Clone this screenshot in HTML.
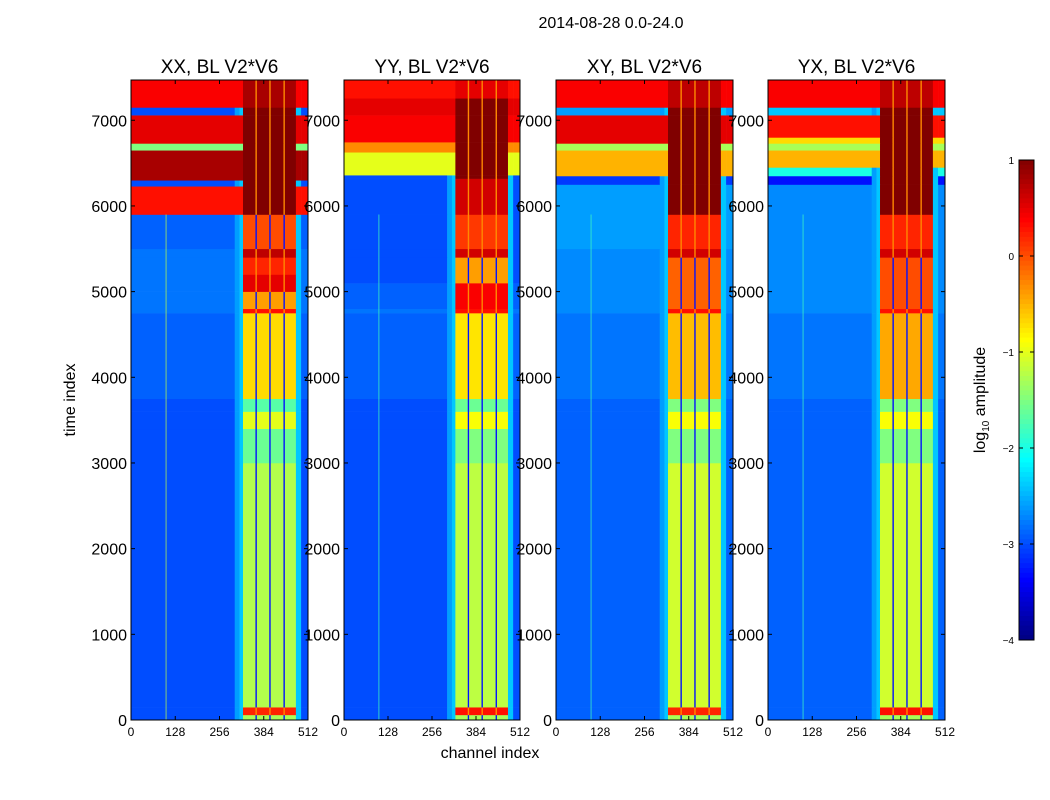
<!DOCTYPE html>
<html><head><meta charset="utf-8"><style>
body{margin:0;background:#fff;}
svg{display:block;font-family:"Liberation Sans",sans-serif;}
</style></head><body>
<svg id="fig" width="1050" height="800" viewBox="0 0 1050 800">
<text x="611" y="28" font-size="16" text-anchor="middle">2014-08-28 0.0-24.0</text>
<text transform="translate(75,400) rotate(-90)" font-size="16" text-anchor="middle">time index</text>
<text x="490" y="758" font-size="16" text-anchor="middle">channel index</text>
<g id="panels"></g>
<g id="cbar"></g>
<text transform="translate(985,400) rotate(-90)" font-size="16" text-anchor="middle">log<tspan font-size="10" dy="4">10</tspan><tspan dy="-4"> amplitude</tspan></text>
</svg>
<script>
// ---- data ----
const panelTitles = ["XX, BL V2*V6","YY, BL V2*V6","XY, BL V2*V6","YX, BL V2*V6"];
const yTicks = [0,1000,2000,3000,4000,5000,6000,7000];
const xTicks = [0,128,256,384,512];
const cbTicks = [1,0,-1,-2,-3,-4];
const stripStarts = [324,364,404,445];
const stripEnds = [360,400,441,477];
// time bands per panel: start, end, background log-amplitude, strip log-amplitude
const bandStart = [
 [0,60,150,3000,3400,3600,3750,4750,4800,5000,5200,5400,5500,5900,6230,6300,6650,6730,7060,7150],
 [0,60,150,3000,3400,3600,3750,4750,4800,5100,5400,5500,5900,6320,6360,6627,6745,7060,7257],
 [0,60,150,3000,3400,3600,3750,4750,4800,5400,5500,5900,6250,6350,6650,6730,7060,7150],
 [0,60,150,3000,3400,3600,3750,4750,4800,5400,5500,5900,6250,6350,6450,6650,6730,6800,7060,7150]
];
const bandEnd = [
 [60,150,3000,3400,3600,3750,4750,4800,5000,5200,5400,5500,5900,6230,6300,6650,6730,7060,7150,7470],
 [60,150,3000,3400,3600,3750,4750,4800,5100,5400,5500,5900,6320,6360,6627,6745,7060,7257,7470],
 [60,150,3000,3400,3600,3750,4750,4800,5400,5500,5900,6250,6350,6650,6730,7060,7150,7470],
 [60,150,3000,3400,3600,3750,4750,4800,5400,5500,5900,6250,6350,6450,6650,6730,6800,7060,7150,7470]
];
const bgVal = [
 [-3.0,-3.0,-3.0,-3.0,-3.0,-3.0,-2.9,-2.8,-2.8,-2.8,-2.8,-2.8,-2.9,0.3,-3.0,0.8,-1.5,0.5,-3.0,0.4],
 [-3.0,-3.0,-3.0,-3.0,-3.0,-3.0,-2.9,-2.8,-2.9,-3.0,-3.0,-3.0,-3.0,-3.0,-1.0,-0.3,0.4,0.5,0.3],
 [-2.9,-2.9,-2.9,-2.9,-2.9,-2.9,-2.8,-2.7,-2.7,-2.7,-2.6,-2.6,-3.1,-0.5,-1.3,0.5,-2.6,0.4],
 [-2.9,-2.9,-2.9,-2.9,-2.9,-2.9,-2.8,-2.7,-2.7,-2.7,-2.7,-2.7,-3.3,-2.0,-0.5,-1.3,-0.7,0.3,-2.4,0.4]
];
const stripVal = [
 [-1.3,0.2,-1.25,-1.6,-1.0,-1.7,-0.7,0.3,-0.4,0.5,0.2,0.7,0.0,1.0,1.0,1.0,1.0,1.0,1.0,0.8],
 [-1.3,0.3,-1.2,-1.5,-0.9,-1.6,-0.75,0.3,0.4,-0.4,0.6,0.1,0.6,1.0,1.0,1.0,1.0,1.0,0.5],
 [-1.3,0.2,-1.1,-1.5,-0.9,-1.5,-0.55,0.3,-0.1,0.6,0.2,1.0,1.0,1.0,1.0,1.0,1.0,0.7],
 [-1.3,0.3,-1.1,-1.5,-0.9,-1.5,-0.45,0.3,0.0,0.6,0.2,1.0,1.0,1.0,1.0,1.0,1.0,1.0,1.0,0.7]
];
// ---- layout ----
const panelX0 = [131,344,556,768], panelX1 = [308,520,733,945];
const PY0 = 80, PY1 = 720, TMAX = 7470, CMAX = 512;
const NS = 'http://www.w3.org/2000/svg';
function jet(v){
  let x = Math.max(0, Math.min(1, (v + 4) / 5));
  const c = t => Math.round(255 * Math.max(0, Math.min(1, 1.5 - Math.abs(4 * x - t))));
  return `rgb(${c(3)},${c(2)},${c(1)})`;
}
function mk(tag, attrs, parent){ const e = document.createElementNS(NS, tag); for (const k in attrs) e.setAttribute(k, attrs[k]); parent.appendChild(e); return e; }
const root = document.getElementById('panels');
for (let p = 0; p < 4; p++) {
  const x0 = panelX0[p], x1 = panelX1[p];
  const xs = c => x0 + (x1 - x0) * c / CMAX;
  const ys = t => PY1 - (PY1 - PY0) * t / TMAX;
  const g = mk('g', {}, root);
  
  
  for (let b = 0; b < bandStart[p].length; b++) {
    const yT = ys(bandEnd[p][b]), yB = ys(bandStart[p][b]);
    const bg = bgVal[p][b], sv = stripVal[p][b];
    const hi = bg > -2;
    const edge = hi ? bg : -2.4;
    const gap = sv > 0 ? -0.3 : -3.3;
    const segs = hi ? [[0,324,bg]] : [[0,300,bg],[300,314,-2.6],[314,324,edge]];
    for (let s = 0; s < 4; s++) {
      segs.push([stripStarts[s], stripEnds[s], sv]);
      if (s < 3) segs.push([stripEnds[s], stripStarts[s+1], gap]);
    }
    segs.push([477,492,edge],[492,512,bg]);
    for (const sg of segs) {
      const r = mk('rect', {x: xs(sg[0]), y: yT, width: xs(sg[1]) - xs(sg[0]) + 0.3, height: yB - yT + 0.3, fill: jet(sg[2])}, g);
      
      
    }
  }
  mk('rect', {x: xs(100), y: ys(5900), width: 1, height: ys(0) - ys(5900), fill: jet(p === 0 ? -1.2 : -1.8), opacity: 0.7}, g);
  const fr = mk('rect', {x: x0, y: PY0, width: x1 - x0, height: PY1 - PY0, fill: 'none', stroke: '#000', 'stroke-width': 1}, g);
  
  
  const tt = mk('text', {x: (x0 + x1) / 2, y: 73, 'font-size': 19, 'text-anchor': 'middle'}, g);
  tt.textContent = panelTitles[p];
  
  
  for (const t of yTicks) {
    const y = ys(t);
    mk('line', {x1: x0, x2: x0 + 4, y1: y, y2: y, stroke: '#000'}, g);
    mk('line', {x1: x1, x2: x1 - 4, y1: y, y2: y, stroke: '#000'}, g);
    const tl = mk('text', {x: x0 - 4, y: y + 6, 'font-size': 16, 'text-anchor': 'end'}, g);
    tl.textContent = t;
    
    
  }
  for (const c of xTicks) {
    const x = xs(c);
    mk('line', {x1: x, x2: x, y1: PY1, y2: PY1 - 4, stroke: '#000'}, g);
    mk('line', {x1: x, x2: x, y1: PY0, y2: PY0 + 4, stroke: '#000'}, g);
    const xl = mk('text', {x: x, y: 736, 'font-size': 12, 'text-anchor': 'middle'}, g);
    xl.textContent = c;
    
    
  }
}
// colorbar
const cb = document.getElementById('cbar');
const CB0 = 160, CB1 = 640, CBX = 1019, CBW = 15;
for (let i = 0; i < 100; i++) {
  const v = 1 - 5 * (i + 0.5) / 100;
  mk('rect', {x: CBX, y: CB0 + (CB1 - CB0) * i / 100, width: CBW, height: (CB1 - CB0) / 100 + 0.5, fill: jet(v)}, cb);
}
mk('rect', {x: CBX, y: CB0, width: CBW, height: CB1 - CB0, fill: 'none', stroke: '#000'}, cb);
for (const v of cbTicks) {
  const y = CB0 + (CB1 - CB0) * (1 - v) / 5;
  mk('line', {x1: CBX, x2: CBX + 4, y1: y, y2: y, stroke: '#000'}, cb);
  mk('line', {x1: CBX + CBW, x2: CBX + CBW - 4, y1: y, y2: y, stroke: '#000'}, cb);
  const l = mk('text', {x: 1014, y: y + 4, 'font-size': 10, 'text-anchor': 'end'}, cb);
  l.textContent = v < 0 ? '\u2212' + (-v) : v;
  
  
}
</script>
</body></html>
